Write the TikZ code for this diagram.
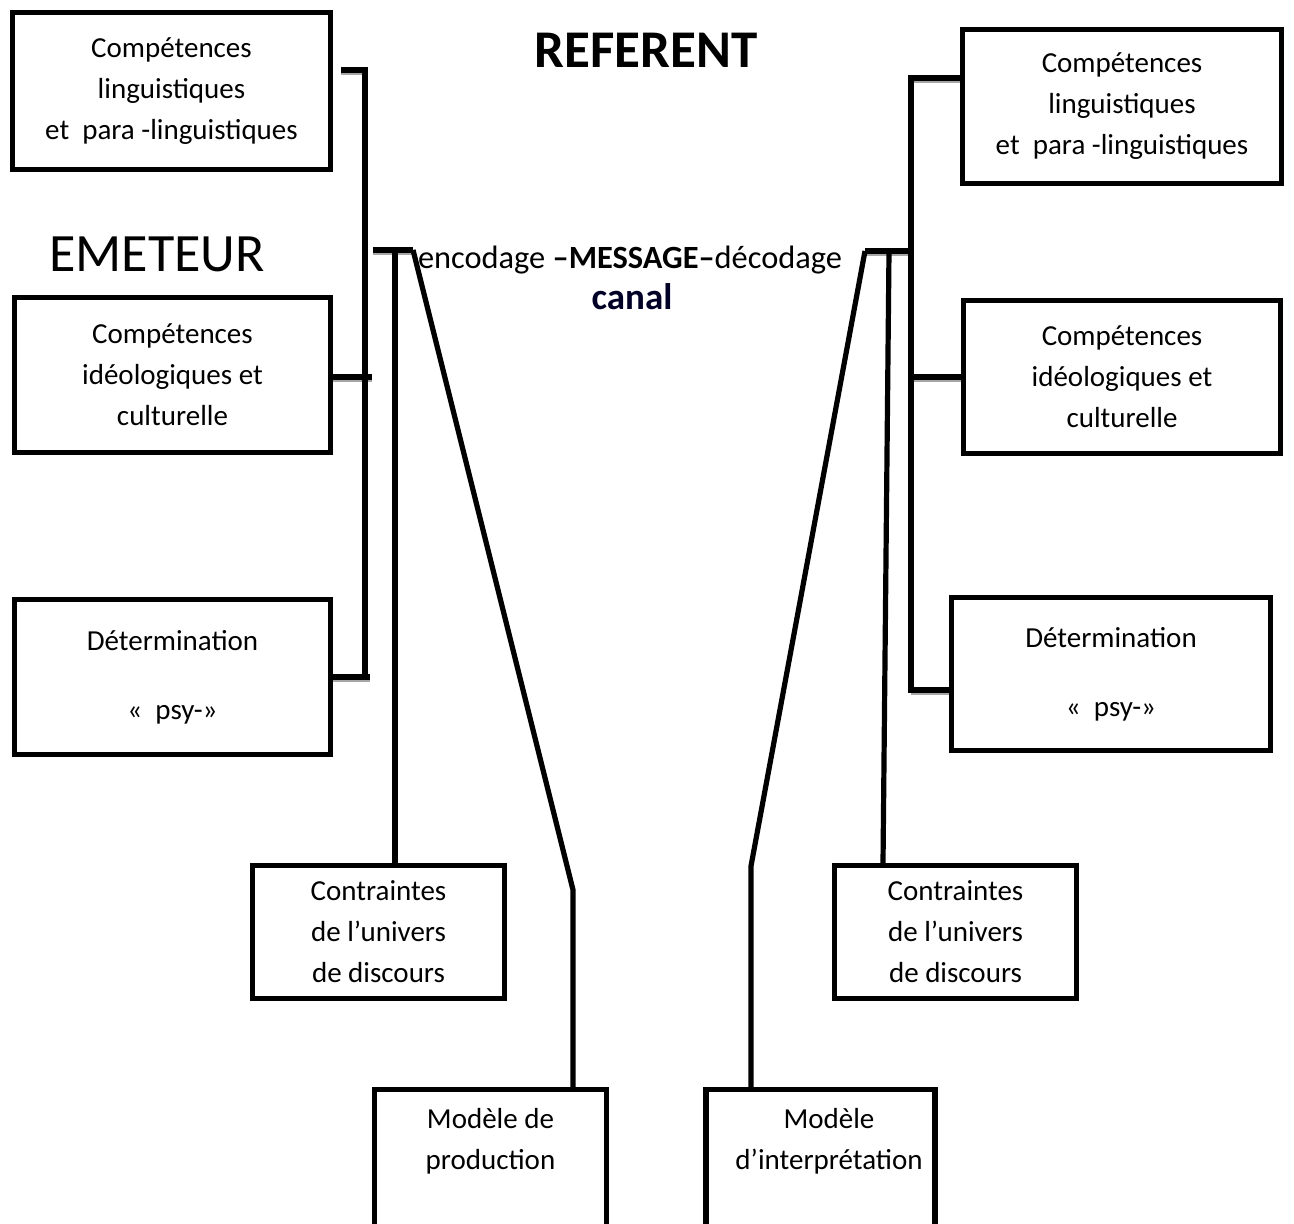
\documentclass[tikz,border=0pt]{standalone}
\usepackage{fontspec}
\setmainfont{Carlito}
\begin{document}
\begin{tikzpicture}[x=0.5pt,y=-0.5pt,
  lw/.style={line width=2.6pt, line join=miter},
  shd/.style={line width=1.6pt, draw=black!35},
  bx/.style={draw, line width=2.6pt, align=center, inner sep=0pt,
    font=\fontsize{14.5}{20.5}\selectfont},
  txt/.style={align=center, inner sep=0pt, font=\fontsize{14.5}{20.5}\selectfont}]
\useasboundingbox (0,0) rectangle (1294,1224);
\clip (0,0) rectangle (1294,1224);

% left boxes
\node[bx, minimum width=159pt, minimum height=78.5pt] (L1) at (171.5,91)
  {Compétences\\linguistiques\\et\ \ para -linguistiques};
\node[bx, minimum width=158pt, minimum height=77.5pt] (L2) at (172.5,375)
  {Compétences\\idéologiques et\\culturelle};
\node[bx, minimum width=158pt, minimum height=77.5pt] (L3) at (172.5,677)
  {Détermination\\[14pt]«\ \ psy-»};
% right boxes
\node[bx, minimum width=159.5pt, minimum height=77pt] (R1) at (1122,106.5)
  {Compétences\\linguistiques\\et\ \ para -linguistiques};
\node[bx, minimum width=158.5pt, minimum height=76.5pt] (R2) at (1122,377)
  {Compétences\\idéologiques et\\culturelle};
\node[bx, minimum width=159.5pt, minimum height=76.5pt] (R3) at (1111,674)
  {Détermination\\[14pt]«\ \ psy-»};
% lower boxes
\node[bx, minimum width=126pt, minimum height=66.5pt] (CL) at (378.5,932)
  {Contraintes\\de l’univers\\de discours};
\node[bx, minimum width=121pt, minimum height=66.5pt] (CR) at (955.5,932)
  {Contraintes\\de l’univers\\de discours};
\node[bx, minimum width=116pt, minimum height=84pt] (MP) at (490.5,1173.5) {};
\node[txt] (MPt) at (490.5,1141) {Modèle de\\production};
\node[bx, minimum width=114.5pt, minimum height=84pt] (MI) at (820.5,1173.5) {};
\node[txt] (MIt) at (829,1141) {Modèle\\d’interprétation};

% titles
\node[inner sep=0pt, font=\fontsize{27}{30}\selectfont] (EM) at (157,254) {EMETEUR};
\node[inner sep=0pt, font=\fontsize{26.5}{30}\selectfont\bfseries] (REF) at (646,50) {REFERENT};
\node[inner sep=0pt, font=\fontsize{16.2}{20}\selectfont] (MSG) at (630,260) {encodage \textbf{–MESSAGE–}décodage};
\node[inner sep=0pt, font=\fontsize{18.5}{20}\selectfont\bfseries, text=black!85!blue] (CAN) at (632,297) {canal};

% junction coordinates
\coordinate (JL1) at (373,250);
\coordinate (JL2) at (413,250);
\coordinate (JR1) at (865,251);
\coordinate (JR2) at (911,251);

% shadows under horizontal segments
\draw[shd] (341,73.5) -- (365,73.5);
\draw[shd] (L2.east |- 0,380.5) -- (372,380.5);
\draw[shd] (L3.east |- 0,680.5) -- (370,680.5);
\draw[shd] ([yshift=-1.7pt]JL1) -- ([yshift=-1.7pt]JL2);
\draw[shd] ([yshift=-1.7pt]JR1) -- ([yshift=-1.7pt]JR2);
\draw[shd] (911,81.5) -- (R1.west |- 0,81.5);
\draw[shd] (911,380.5) -- (R2.west |- 0,380.5);
\draw[shd] (911,693.5) -- (R3.west |- 0,693.5);

% left bracket
\draw[lw] (341,70) -- (365,70) -- (365,677);
\draw[lw] (L2.east |- 0,377) -- (372,377);
\draw[lw] (L3.east |- 0,677) -- (370,677);
% left junction and links
\draw[lw] (JL1) -- (JL2);
\draw[lw] (395,250) -- (395,250 |- CL.north);
\draw[lw] (JL2) -- (573,890) -- (573,890 |- MP.north);

% right bracket
\draw[lw] (R1.west |- 0,78) -- (911,78) -- (911,690) -- (R3.west |- 0,690);
\draw[lw] (911,377) -- (R2.west |- 0,377);
% right junction and links
\draw[lw] (JR1) -- (JR2);
\draw[lw] (889,251) -- (883,0 |- CR.north);
\draw[lw] (JR1) -- (751,866) -- (751,866 |- MI.north);
\end{tikzpicture}
\end{document}
